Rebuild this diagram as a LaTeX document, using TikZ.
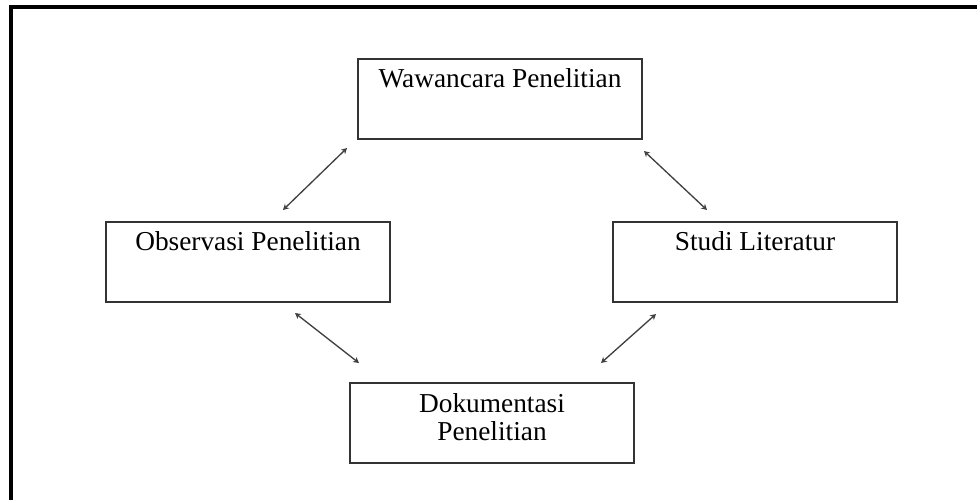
\documentclass[tikz,border=0pt]{standalone}
\usepackage{fontspec}
\setmainfont{Liberation Serif}
\usetikzlibrary{arrows.meta}
\begin{document}
\begin{tikzpicture}[x=0.45pt, y=-0.45pt,
  box/.style={draw=black!80, line width=0.9pt, minimum width=128pt, inner sep=0pt,
    text height=13pt, text depth=23pt, align=center, anchor=north,
    font=\fontsize{12.3}{12.7}\selectfont},
  link/.style={{Stealth[length=2.6pt,width=2.8pt]}-{Stealth[length=2.6pt,width=2.8pt]},
    line width=0.6pt, draw=black!75}]

\useasboundingbox (0,0) rectangle (977,500);

% frame
\coordinate (f1) at (11,500);
\coordinate (f2) at (11,7);
\coordinate (f3) at (977,7);
\draw [line width=1.8pt] (f1) -- (f2) -- (f3);

\node [box] (wawancara) at (500,58) {Wawancara Penelitian};
\node [box] (observasi) at (248,221) {Observasi Penelitian};
\node [box] (studi) at (755,221) {Studi Literatur};
\node [box, text height=26pt, text depth=10pt] (dokumentasi) at (492,382) {Dokumentasi\\Penelitian};

\coordinate (a1) at (347,148);
\coordinate (a2) at (283,210);
\coordinate (b1) at (644,151);
\coordinate (b2) at (707,210);
\coordinate (c1) at (295,313);
\coordinate (c2) at (359,363);
\coordinate (d1) at (656,314);
\coordinate (d2) at (601,363);
\draw [link] (a1) -- (a2);
\draw [link] (b1) -- (b2);
\draw [link] (c1) -- (c2);
\draw [link] (d1) -- (d2);

\end{tikzpicture}
\end{document}
